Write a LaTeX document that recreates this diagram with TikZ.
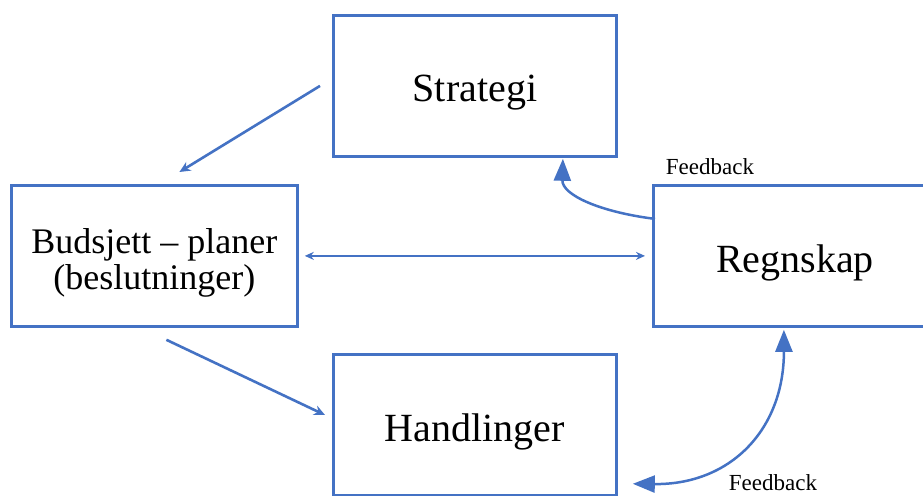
\documentclass[tikz,border=0pt]{standalone}
\usepackage{fontspec}
\setmainfont{Liberation Serif}
\usetikzlibrary{arrows.meta,calc}
\definecolor{bl}{HTML}{4472C4}
\begin{document}
\begin{tikzpicture}[x=1pt,y=-1pt,
  box/.style={draw=bl,line width=2.8pt,fill=none,minimum width=283pt,minimum height=141pt,inner sep=0pt,anchor=north west,align=center,text depth=0pt},
  big/.style={font=\fontsize{40}{46}\selectfont},
  mid/.style={font=\fontsize{36}{38}\selectfont},
  fb/.style={font=\fontsize{23}{26}\selectfont,inner sep=0pt},
  arr/.style={draw=bl,line width=2.6pt,-{Stealth[length=11pt,width=10pt]}},
  darr/.style={draw=bl,line width=2.4pt,{Stealth[length=9pt,width=8pt]}-{Stealth[length=9pt,width=8pt]}},
  curv/.style={draw=bl,line width=2.5pt,-{Triangle[length=22pt,width=17pt]}},
  dcurv/.style={draw=bl,line width=2.5pt,{Triangle[length=22pt,width=17pt]}-{Triangle[length=22pt,width=17pt]}}]
\clip (0,0) rectangle (923,495);
\fill[white] (0,0) rectangle (923,495);
\node[box,big] (strat) at (332,14) {\raisebox{-5pt}{Strategi}};
\node[box,mid,minimum width=286pt] (budg) at (10,184) {\raisebox{-6pt}{\shortstack{Budsjett – planer\\(beslutninger)}}};
\node[box,big] (regn) at (652,184) {\raisebox{-5pt}{Regnskap}};
\node[box,big] (hand) at (332,353) {\raisebox{-6pt}{Handlinger}};
\node[fb] (fb1) at (710,167) {Feedback};
\node[fb] (fb2) at (773,483) {Feedback};
% straight arrows
\coordinate (a1s) at ([xshift=-12pt]strat.west);
\coordinate (a1e) at ($(budg.north)+(25,-12)$);
\draw[arr] (a1s) -- (a1e);
\coordinate (a2s) at ($(budg.south)+(12,12)$);
\coordinate (a2e) at ($(hand.north west)+(-7,62)$);
\draw[arr] (a2s) -- (a2e);
\coordinate (a3s) at ([xshift=6pt]budg.east);
\coordinate (a3e) at ([xshift=-7pt]regn.west);
\draw[darr] (a3s) -- (a3e);
% feedback curves
\coordinate (c1s) at ($(regn.west)+(3,-37)$);
\coordinate (c1e) at ($(strat.south)+(88,1)$);
\draw[curv] (c1s) .. controls (600,212) and (562,195) .. (c1e);
\coordinate (c2s) at ($(regn.south)+(-11,2)$);
\coordinate (c2e) at ($(hand.south east)+(15,-13)$);
\draw[dcurv] (c2s) .. controls (784,430) and (730,485) .. (c2e);
\end{tikzpicture}
\end{document}
